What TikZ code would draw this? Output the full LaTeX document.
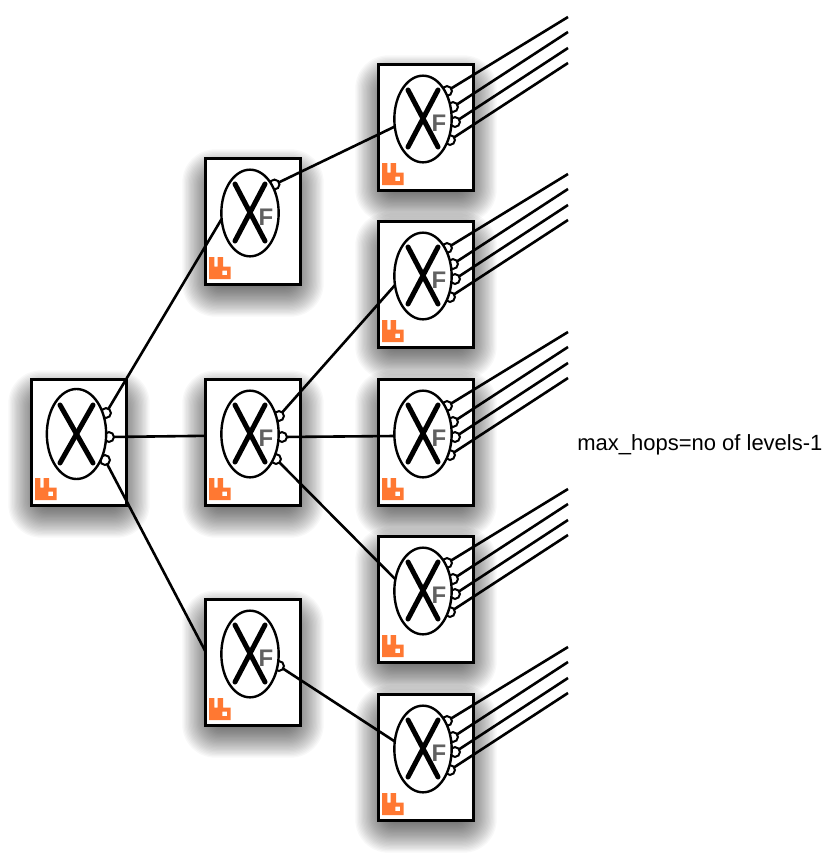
\documentclass[tikz,border=0pt]{standalone}
\usepackage{fontspec}
\setmainfont{Liberation Sans}
\usetikzlibrary{calc,shapes.geometric}
\definecolor{rabbit}{RGB}{255,120,50}
\tikzset{
  x=0.75pt,y=-0.75pt,
  boxnode/.style={draw=black,fill=white,line width=1.95pt,minimum width=71.25pt,minimum height=94.5pt,inner sep=0pt,outer sep=0pt},
  exchange/.style={draw=black,fill=white,ellipse,line width=1.8pt,minimum width=43pt,minimum height=65pt,inner sep=0pt,outer sep=0pt},
  rootexchange/.style={exchange,minimum width=44.5pt,minimum height=67.5pt},
  bindport/.style={draw=black,fill=white,circle,line width=1.5pt,minimum size=7.4pt,inner sep=0pt,outer sep=0pt},
  xmark/.style={line width=3.75pt,line cap=round,black},
  link/.style={line width=1.95pt,black},
  fanoutmark/.style={text=black!62,font=\fontsize{18}{18}\selectfont\bfseries,inner sep=0pt},
  caption/.style={font=\fontsize{16.5}{16.5}\selectfont,text=black,inner sep=0pt,anchor=west},
}
\newcommand{\shadowbox}[2]{%
  \foreach \g in {1,...,28}{
    \fill[black,opacity=0.026,rounded corners={(34-\g)*0.75pt}]
      ($(#1,#2)+(-24+\g*1.3,-10+\g*1.3)$) rectangle ($(#1,#2)+(96+24-\g*1.3,127+33-\g*1.3)$);
  }}
\newcommand{\rabbitlogo}[2]{%
  \fill[rabbit,even odd rule]
    ($(#1,#2)+(4,121)$) -- ($(#1,#2)+(4,99)$) -- ($(#1,#2)+(9.3,99)$) -- ($(#1,#2)+(9.3,108.5)$)
    -- ($(#1,#2)+(12.7,108.5)$) -- ($(#1,#2)+(12.7,99)$) -- ($(#1,#2)+(18,99)$) -- ($(#1,#2)+(18,108.5)$)
    -- ($(#1,#2)+(25.5,108.5)$) -- ($(#1,#2)+(25.5,121)$) -- cycle
    ($(#1,#2)+(17.3,112.5)$) rectangle ($(#1,#2)+(22,117)$);
}
\newcommand{\rabbox}[3]{\node[boxnode] (#1) at ($(#2,#3)+(48,63.5)$) {};}
\newcommand{\rabface}[3]{%
  \node[exchange] (#1e) at ($(#2,#3)+(45,55)$) {};
  \draw[xmark] ($(#2,#3)+(30,26)$) -- ($(#2,#3)+(60,83)$);
  \draw[xmark] ($(#2,#3)+(60,26)$) -- ($(#2,#3)+(30,83)$);
  \rabbitlogo{#2}{#3}
}
\newcommand{\rootface}[3]{%
  \node[rootexchange] (#1e) at ($(#2,#3)+(45.5,55)$) {};
  \draw[xmark] ($(#2,#3)+(29,26)$) -- ($(#2,#3)+(62,84)$);
  \draw[xmark] ($(#2,#3)+(62,26)$) -- ($(#2,#3)+(29,84)$);
  \rabbitlogo{#2}{#3}
}
\newcommand{\fmark}[3]{\node[fanoutmark] (#1f) at ($(#2,#3)+(61,59)$) {F};}
\newcommand{\port}[4]{\node[bindport] (#1) at ($(#2,#3)+#4$) {};}
\newcommand{\leafnode}[3]{%
  \rabbox{#1}{#2}{#3}
  \port{#1p1}{#2}{#3}{(69,27)}\port{#1p2}{#2}{#3}{(75,43)}
  \port{#1p3}{#2}{#3}{(77,58)}\port{#1p4}{#2}{#3}{(72,76)}
  \rabface{#1}{#2}{#3}\fmark{#1}{#2}{#3}
  \coordinate (#1o1) at ($(#2,#3)+(190,-47)$);
  \coordinate (#1o2) at ($(#2,#3)+(190,-32)$);
  \coordinate (#1o3) at ($(#2,#3)+(190,-16)$);
  \coordinate (#1o4) at ($(#2,#3)+(190,-1)$);
  \foreach \k in {1,2,3,4}{\draw[link] (#1p\k) -- (#1o\k);}
}
\begin{document}
\begin{tikzpicture}
\useasboundingbox (0,0) rectangle (827,861);
\fill[white] (0,0) rectangle (827,861);
\shadowbox{31}{379}
\shadowbox{205}{158}\shadowbox{205}{379}\shadowbox{205}{599}
\shadowbox{378}{64}\shadowbox{378}{221}\shadowbox{378}{379}\shadowbox{378}{536}\shadowbox{378}{694}
% root
\rabbox{a}{31}{379}
\port{a1}{31}{379}{(75,34)}\port{a2}{31}{379}{(78,58)}\port{a3}{31}{379}{(74,81)}
\rootface{a}{31}{379}
% middle level
\rabbox{ma}{205}{158}
\port{map}{205}{158}{(69.5,26.5)}
\rabface{ma}{205}{158}\fmark{ma}{205}{158}
\rabbox{mb}{205}{379}
\port{mbp1}{205}{379}{(74,37)}\port{mbp2}{205}{379}{(77,58)}\port{mbp3}{205}{379}{(71,80)}
\rabface{mb}{205}{379}\fmark{mb}{205}{379}
\rabbox{mc}{205}{599}
\port{mcp}{205}{599}{(74,67)}
\rabface{mc}{205}{599}\fmark{mc}{205}{599}
% leaves
\leafnode{la}{378}{64}
\leafnode{lb}{378}{221}
\leafnode{lc}{378}{379}
\leafnode{ld}{378}{536}
\leafnode{le}{378}{694}
% connectors
\draw[link] (a1) -- (mae.192);
\draw[link] (a2) -- (mb.172.3);
\draw[link] (a3) -- (mc.167.7);
\draw[link] (map) -- (lae.195);
\draw[link] (mbp1) -- (lbe.198);
\draw[link] (mbp2) -- (lce.184);
\draw[link] (mbp3) -- (lde.157);
\draw[link] (mcp) -- (lee.165);
\node[caption] (note) at (577,445) {max\_hops=no of levels-1};
\end{tikzpicture}
\end{document}
